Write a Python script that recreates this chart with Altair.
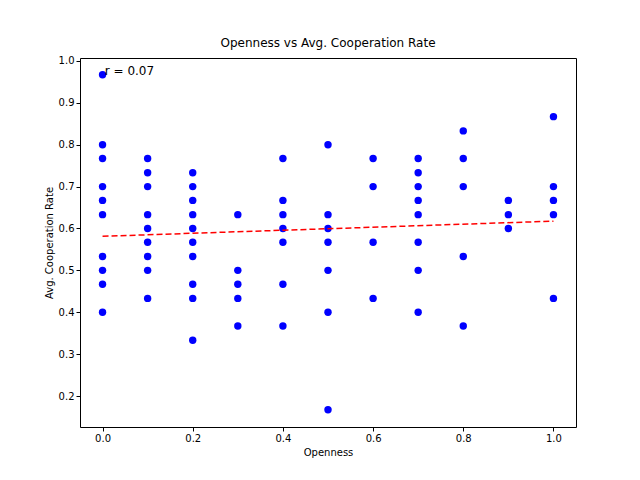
import altair as alt
import pandas as pd

openness_levels = [0.0, 0.1, 0.2, 0.3, 0.4, 0.5, 0.6, 0.7, 0.8, 0.9, 1.0]
coop_rates = [
    [0.967, 0.8, 0.767, 0.7, 0.667, 0.633, 0.533, 0.5, 0.467, 0.4],
    [0.767, 0.733, 0.7, 0.633, 0.6, 0.567, 0.533, 0.5, 0.433],
    [0.733, 0.7, 0.667, 0.633, 0.6, 0.567, 0.533, 0.467, 0.433, 0.333],
    [0.633, 0.5, 0.467, 0.433, 0.367],
    [0.767, 0.667, 0.633, 0.6, 0.567, 0.467, 0.367],
    [0.8, 0.633, 0.6, 0.567, 0.5, 0.4, 0.167],
    [0.767, 0.7, 0.567, 0.433],
    [0.767, 0.733, 0.7, 0.667, 0.633, 0.567, 0.5, 0.4],
    [0.833, 0.767, 0.7, 0.533, 0.367],
    [0.667, 0.633, 0.6],
    [0.867, 0.7, 0.667, 0.633, 0.433],
]
r_label = "r = 0.07"

rows = [(o, c) for o, cs in zip(openness_levels, coop_rates) for c in cs]
df = pd.DataFrame(rows, columns=["openness", "coop"])

font = "DejaVu Sans"
x = alt.X("openness:Q", title="Openness", scale=alt.Scale(domain=[-0.05, 1.05], nice=False, zero=False),
          axis=alt.Axis(values=[0, 0.2, 0.4, 0.6, 0.8, 1.0], format=".1f", grid=False))
y = alt.Y("coop:Q", title="Avg. Cooperation Rate", scale=alt.Scale(domain=[0.126, 1.007], nice=False, zero=False),
          axis=alt.Axis(values=[0.2, 0.3, 0.4, 0.5, 0.6, 0.7, 0.8, 0.9, 1.0], format=".1f", grid=False))

base = alt.Chart(df)
points = base.mark_circle(size=55, color="blue", opacity=1).encode(x=x, y=y)
line = (
    base.transform_regression("openness", "coop")
    .mark_line(color="red", strokeDash=[6, 3], strokeWidth=1.5)
    .encode(x="openness:Q", y="coop:Q")
)
label = (
    alt.Chart(pd.DataFrame({"openness": [0.005], "coop": [0.975], "t": [r_label]}))
    .mark_text(align="left", baseline="middle", fontSize=12, font=font, color="black")
    .encode(x="openness:Q", y="coop:Q", text="t:N")
)

chart = (
    alt.layer(points, line, label)
    .properties(
        width=496, height=369,
        title=alt.TitleParams("Openness vs Avg. Cooperation Rate", font=font, fontSize=12,
                              fontWeight="normal", offset=6),
        autosize=alt.AutoSizeParams(type="none"),
        padding={"left": 72, "top": 50, "right": 56, "bottom": 45},
        background="white",
    )
    .configure_view(stroke="black", strokeWidth=1)
    .configure_axis(grid=False, domain=False, tickColor="black", labelColor="black", titleColor="black",
                    labelFont=font, titleFont=font, labelFontSize=10, titleFontSize=10,
                    titleFontWeight="normal", tickSize=4)
)

chart.save("out.html", embed_options={"renderer": "svg", "actions": False})
